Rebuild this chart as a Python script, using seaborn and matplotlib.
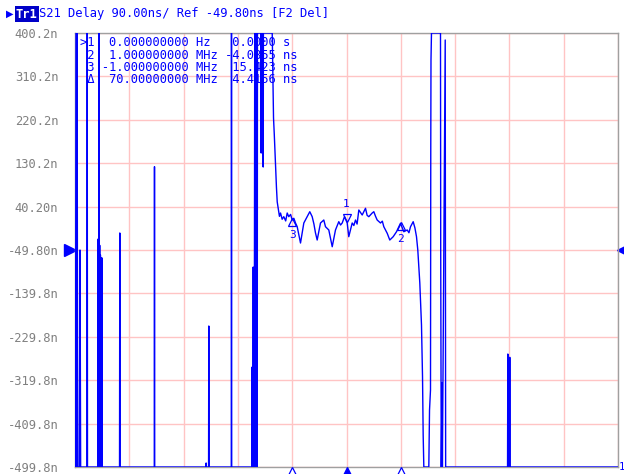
import numpy as np
import pandas as pd
import matplotlib
matplotlib.use("Agg")
import matplotlib.pyplot as plt
import seaborn as sns

sns.set_theme(style="white")
plt.rcParams['font.family'] = ['DejaVu Sans Mono', 'DejaVu Sans']

# trace data: frequency offset (MHz) vs group delay (ns)
TOP = 400.2
BOT = -499.8
freq_mhz = [
    -5.000, -4.990, -4.975, -4.962, -4.950, -4.920, -4.908, -4.896,
    -4.780, -4.775, -4.770,
    -4.580, -4.575, -4.566, -4.556, -4.550, -4.545, -4.540, -4.532, -4.526,
    -4.520, -4.512, -4.506, -4.500,
    -4.180, -4.175, -4.170,
    -3.540, -3.536, -3.532,
    -2.590, -2.585, -2.580,
    -2.540, -2.536, -2.532,
    -2.122, -2.118, -2.114,
    -1.742, -1.737, -1.733,
    -1.722, -1.718, -1.714,
    -1.700, -1.694, -1.690, -1.686, -1.680, -1.676, -1.672, -1.668, -1.664,
    -1.660, -1.656, -1.652, -1.648, -1.644, -1.640,
    -1.575, -1.571, -1.567, -1.538, -1.534, -1.530,
    -1.368, -1.344, -1.330, -1.308, -1.290, -1.276, -1.252,
    -1.235, -1.215, -1.185, -1.155, -1.120, -1.092, -1.063, -1.030, -1.000,
    -0.970, -0.939, -0.908, -0.847, -0.786,
    -0.724, -0.676, -0.632, -0.600, -0.571, -0.540, -0.479, -0.418, -0.387,
    -0.326, -0.263, -0.203, -0.142, -0.110, -0.079, -0.037, 0.013, 0.042,
    0.105, 0.135, 0.166, 0.195, 0.227, 0.289, 0.320, 0.350, 0.380, 0.411,
    0.473, 0.503, 0.535, 0.565, 0.626, 0.660, 0.687, 0.750, 0.797, 0.860,
    0.921, 0.994, 1.055, 1.118, 1.150, 1.179, 1.228, 1.260, 1.289, 1.313,
    1.350, 1.381, 1.400, 1.412, 1.424, 1.516, 1.529, 1.547, 1.552, 1.556,
    1.565, 1.731, 1.735, 1.745, 1.760, 1.766, 1.818, 1.822, 1.826,
    2.966, 2.971, 2.976, 3.002, 3.007, 3.012, 5.000,
]
delay_ns = [
    TOP, BOT, BOT, TOP, BOT, BOT, -49.8, BOT,
    BOT, TOP, BOT,
    BOT, -27.0, BOT, TOP, BOT, -40.0, BOT, -60.0, BOT,
    -66.4, BOT, -66.0, BOT,
    BOT, -14.5, BOT,
    BOT, 122.9, BOT,
    BOT, -491.5, BOT,
    BOT, -207.4, BOT,
    BOT, TOP, BOT,
    BOT, -292.4, BOT,
    BOT, -85.1, BOT,
    BOT, 22.8, TOP, BOT, TOP, -45.0, TOP, BOT, TOP,
    -40.0, TOP, BOT, TOP, BOT, TOP,
    TOP, 151.3, TOP, TOP, 122.3, TOP,
    TOP, 223.9, 190.0, 130.6, 80.0, 50.0, 33.1,
    20.0, 26.9, 14.0, 19.3, 10.5, 26.9, 19.3, 24.0, 12.4,
    16.0, 6.2, -1.5, -35.3, 6.2,
    19.3, 29.6, 19.3, 4.0, -14.5, -29.1, 6.2, 12.4, -1.5,
    -8.3, -43.0, -8.3, 8.9, 2.0, 6.2, 19.3, 6.2, -22.2,
    6.2, 1.0, 12.4, 4.0, 33.1, 22.8, 30.0, 36.7, 22.0, 19.3,
    26.9, 29.6, 20.0, 12.4, 6.2, 10.0, -1.5, -15.2, -29.1, -22.2,
    -11.9, 5.6, -11.9, -8.3, -14.0, -1.5, 8.9, -4.0, -22.2, -49.8,
    -118.2, -205.3, -312.5, -433.4, BOT, BOT, -381.6, -340.1, 161.7, 344.2,
    TOP, TOP, -49.8, BOT, -325.6, BOT, 385.7, -56.0, BOT,
    BOT, -265.5, BOT, BOT, -272.3, BOT, BOT,
]

marker_names = ['1', '2', '3']
marker_freq = [0.0, 1.0, -1.0]

ytick_vals = [400.2, 310.2, 220.2, 130.2, 40.2, -49.8, -139.8, -229.8, -319.8, -409.8, -499.8]
ytick_labels = ['400.2n', '310.2n', '220.2n', '130.2n', '40.20n', '-49.80n',
                '-139.8n', '-229.8n', '-319.8n', '-409.8n', '-499.8n']
ref_level = -49.8

table_lines = [
    ">1  0.000000000 Hz   0.0000 s",
    " 2  1.000000000 MHz -4.0855 ns",
    " 3 -1.000000000 MHz  15.423 ns",
    " \u0394  70.00000000 MHz  4.4156 ns",
]

blue = '#0000FF'
df = pd.DataFrame({'freq': freq_mhz, 'delay': delay_ns})

fig = plt.figure(figsize=(6.24, 4.74), dpi=100, facecolor='white')
ax = fig.add_axes([75 / 624, 7 / 474, 543 / 624, 434 / 474])
ax.set_facecolor('white')

sns.lineplot(data=df, x='freq', y='delay', sort=False, estimator=None,
             color=blue, linewidth=1.0, ax=ax, zorder=3)

ax.set_xlim(-5, 5)
ax.set_ylim(BOT, TOP)
ax.set_xticks(np.arange(-5, 5.01, 1))
ax.set_xticklabels([])
ax.set_yticks(ytick_vals)
ax.set_yticklabels(ytick_labels)
ax.grid(True, color='#FFC4C4', linewidth=1.0)
ax.tick_params(axis='y', length=0, pad=12, labelsize=8.7, labelcolor='#808080')
ax.tick_params(axis='x', length=0)
ax.set_xlabel('')
ax.set_ylabel('')
for s in ax.spines.values():
    s.set_color('#A0A0A0')
    s.set_linewidth(1.0)

# markers on the trace
for name, f in zip(marker_names, marker_freq):
    yv = np.interp(f, freq_mhz, delay_ns)
    if name == '1':
        ax.plot(f, yv + 6, marker='v', ms=6, mfc='none', mec=blue, mew=0.9, zorder=4)
        ax.annotate(name, (f, yv), xytext=(0, 9), textcoords='offset points',
                    ha='center', va='bottom', color=blue, fontsize=8)
    else:
        ax.plot(f, yv - 4, marker='^', ms=6, mfc='none', mec=blue, mew=0.9, zorder=4)
        ax.annotate(name, (f, yv), xytext=(0, -7), textcoords='offset points',
                    ha='center', va='top', color=blue, fontsize=8)

# marker triangles under the x axis
btrans = ax.get_xaxis_transform()
for name, f in zip(marker_names, marker_freq):
    ax.plot(f, -0.012, marker='^', ms=7, transform=btrans, clip_on=False,
            mfc=blue if name == '1' else 'white', mec=blue, mew=0.9, zorder=5)

# reference level arrows
ytrans = ax.get_yaxis_transform()
ax.plot(-0.009, ref_level, marker='>', ms=8, color=blue, transform=ytrans, clip_on=False)
ax.plot(1.007, ref_level, marker='<', ms=6.5, color=blue, transform=ytrans, clip_on=False)

# channel number
ax.text(1.0015, 0.0, '1', transform=ax.transAxes, color=blue, fontsize=7.5,
        ha='left', va='center')

# marker table
for i, line in enumerate(table_lines):
    fig.text(80 / 624, 1 - (43 + 12.3 * i) / 474, line, color=blue, fontsize=8.7,
             ha='left', va='center')

# header
fig.text(6 / 624, 1 - 14 / 474, '\u25B6', color=blue, fontsize=7, ha='left', va='center',
         family='DejaVu Sans')
fig.text(16 / 624, 1 - 14 / 474, 'Tr1', color='white', fontsize=8.7, ha='left', va='center',
         fontweight='bold',
         bbox=dict(boxstyle='square,pad=0.1', facecolor='#0000C8', edgecolor='none'))
fig.text(39 / 624, 1 - 14 / 474, 'S21 Delay 90.00ns/ Ref -49.80ns [F2 Del]',
         color=blue, fontsize=8.7, ha='left', va='center')

fig.savefig('out.png', dpi=100, facecolor='white')
